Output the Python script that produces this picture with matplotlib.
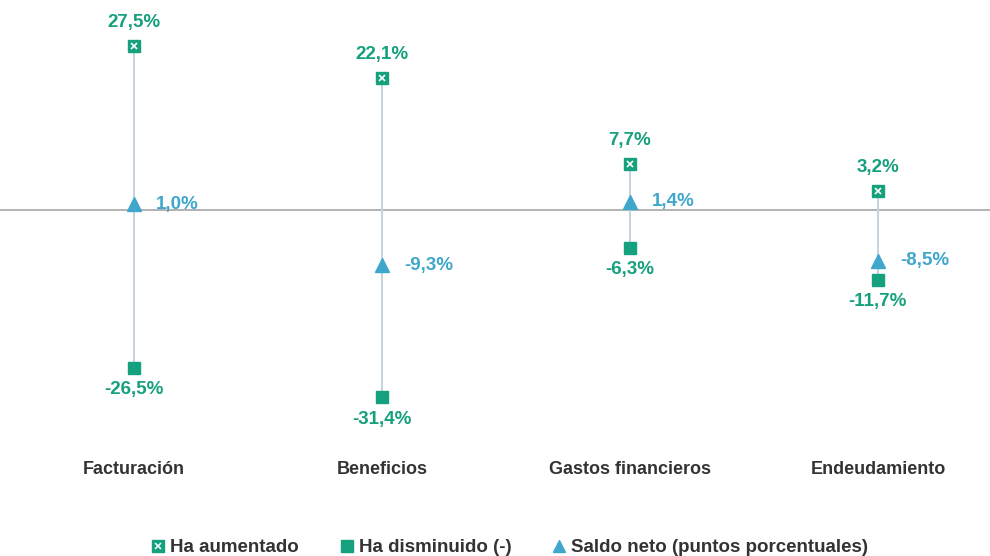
import matplotlib
matplotlib.use('Agg')
import matplotlib.pyplot as plt
from matplotlib.lines import Line2D
from matplotlib.legend_handler import HandlerTuple

categorias = ['Facturación', 'Beneficios', 'Gastos financieros', 'Endeudamiento']
aumentado = [27.5, 22.1, 7.7, 3.2]
disminuido = [-26.5, -31.4, -6.3, -11.7]
saldo = [1.0, -9.3, 1.4, -8.5]
leyenda = ['Ha aumentado', 'Ha disminuido (-)', 'Saldo neto (puntos porcentuales)']

verde = '#15a07e'
azul = '#3fa7cc'
plt.rcParams['font.family'] = ['Liberation Sans', 'DejaVu Sans']

def fmt(v):
    return ('%.1f%%' % v).replace('.', ',')

fig = plt.figure(figsize=(9.9, 5.56), dpi=100)
ax = fig.add_axes([0, 0, 1, 1])
ax.set_xlim(-0.540, 3.452)
ax.set_ylim(-58.05, 35.23)
ax.axis('off')

ax.axhline(0, color='#a6a6a6', lw=1.2, zorder=1)
x = list(range(len(categorias)))
for i in x:
    ax.plot([i, i], [disminuido[i], aumentado[i]], color='#c9d3de', lw=1.5, zorder=2)
    ax.text(i, aumentado[i] + 4.0, fmt(aumentado[i]), ha='center', va='center',
            color=verde, fontsize=13.5, fontweight='bold')
    ax.text(i, disminuido[i] - 3.7, fmt(disminuido[i]), ha='center', va='center',
            color=verde, fontsize=13.5, fontweight='bold')
    ax.text(i + 0.09, saldo[i], fmt(saldo[i]), ha='left', va='center',
            color=azul, fontsize=13.5, fontweight='bold')
    ax.text(i, -43.6, categorias[i], ha='center', va='center',
            color='#333333', fontsize=13, fontweight='bold')

ax.plot(x, aumentado, 's', color=verde, ms=8, zorder=3)
ax.plot(x, aumentado, 'x', color='white', ms=5, mew=1.2, zorder=4)
ax.plot(x, disminuido, 's', color=verde, ms=8, zorder=3)
ax.plot(x, saldo, '^', color=azul, ms=10, zorder=3)

h1 = (Line2D([], [], marker='s', color=verde, ls='', ms=8),
      Line2D([], [], marker='x', color='white', ls='', ms=5, mew=1.1))
h2 = Line2D([], [], marker='s', color=verde, ls='', ms=8)
h3 = Line2D([], [], marker='^', color=azul, ls='', ms=8)
leg = ax.legend([h1, h2, h3], leyenda, loc='center', bbox_to_anchor=(0.515, 0.015),
                ncol=3, frameon=False, handlelength=0.7, handletextpad=0.3,
                columnspacing=2.2, prop={'size': 13.5, 'weight': 'bold'},
                handler_map={tuple: HandlerTuple(ndivide=1, pad=0)})
for t in leg.get_texts():
    t.set_color('#333333')

fig.savefig('out.png', dpi=100)
